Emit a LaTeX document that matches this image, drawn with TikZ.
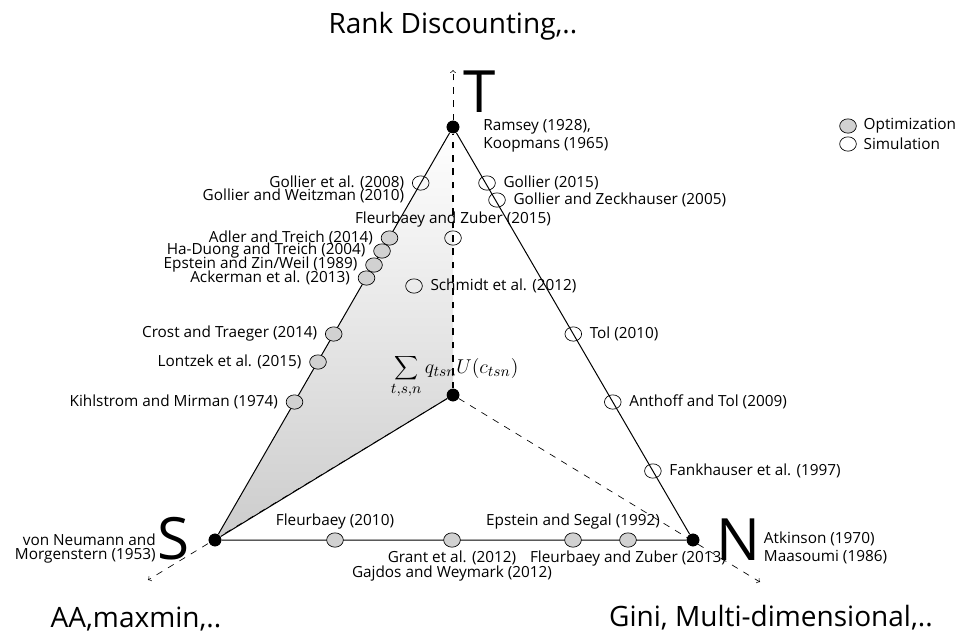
\documentclass[tikz,border=0pt]{standalone}
\usepackage[no-math]{fontspec}
\setmainfont{Open Sans}
\usepackage{tikz}
\usetikzlibrary{positioning,shapes.geometric}

\begin{document}
\begin{tikzpicture}[x=0.6pt, y=-0.6pt,
    lab/.style={font=\fontsize{9.2}{11}\selectfont, inner sep=0pt},
    ttl/.style={font=\fontsize{16.8}{20}\selectfont, inner sep=0pt},
    big/.style={font=\fontsize{35}{40}\selectfont, inner sep=0pt},
    opt/.style={ellipse, draw, fill=black!18, minimum width=10pt, minimum height=8.6pt, inner sep=0pt},
    sim/.style={ellipse, draw, minimum width=10pt, minimum height=8.6pt, inner sep=0pt},
    dot/.style={circle, fill=black, minimum size=7.6pt, inner sep=0pt},
    axis/.style={dash pattern=on 4pt off 4pt}]
    \useasboundingbox (0,0) rectangle (958,632);
    % corners and the middle point
    \node[dot] (T) at (453,127) {};
    \node[dot] (S) at (215,540) {};
    \node[dot] (N) at (693,540) {};
    \node[dot] (O) at (453,395) {};
    \coordinate (Tend) at (453,70);
    \coordinate (Send) at (148,580);
    \coordinate (Nend) at (760,582);
    % shaded part
    \shade[top color=white, bottom color=black!20]
(T.center) --
(S.center) --
(O.center) --
cycle;
    % axes
    \draw[axis, ->] (O) -- (Send);
    \draw[axis, ->] (O) -- (Nend);
    \draw[axis, ->] (T) -- (Tend);
    \draw[axis, thick] (O) -- (T);
    \draw[semithick] (S) -- (O);
    % triangle
    \draw[semithick]
(T) --
(S) --
(N) --
(T);
    \node[dot] at (T.center) {};
    \node[dot] at (S.center) {};
    \node[dot] at (N.center) {};
    \node[dot] at (O.center) {};
    \node[big] (Tl) at (480,92) {T};
    \node[big] (Sl) at (174,539) {S};
    \node[big] (Nl) at (738,540) {N};
    % titles
    \node[ttl, anchor=base] (top) at (453,33) {Rank Discounting,..};
    \node[ttl, anchor=base] (left) at (136,627) {AA,maxmin,..};
    \node[ttl, anchor=base] (right) at (771,626) {Gini, Multi-dimensional,..};
    % left edge
    \node[sim] (go08) at (420.7,183) {};
    \node[opt] (ad14) at (389.5,238) {};
    \node[opt] (hd04) at (382,251) {};
    \node[opt] (ez89) at (374,265) {};
    \node[opt] (ac13) at (366.5,278) {};
    \node[opt] (ct14) at (333.7,334) {};
    \node[opt] (lo15) at (318,362) {};
    \node[opt] (km74) at (294.5,402) {};
    \node[lab, align=right, left=4.5pt of go08, yshift=-3.8pt] {Gollier et al. (2008)\\[-2.8pt]Gollier and Weitzman (2010)};
    \node[lab, left=4.5pt of ad14] {Adler and Treich (2014)};
    \node[lab, left=4.5pt of hd04] {Ha-Duong and Treich (2004)};
    \node[lab, left=4.5pt of ez89] {Epstein and Zin/Weil (1989)};
    \node[lab, left=4.5pt of ac13] {Ackerman et al. (2013)};
    \node[lab, left=4.5pt of ct14] {Crost and Traeger (2014)};
    \node[lab, left=4.5pt of lo15] {Lontzek et al. (2015)};
    \node[lab, left=4.5pt of km74] {Kihlstrom and Mirman (1974)};
    % right edge
    \node[sim] (go15) at (487,183) {};
    \node[sim] (gz05) at (497,200) {};
    \node[sim] (to10) at (573.3,334) {};
    \node[sim] (at09) at (612.8,402) {};
    \node[sim] (fa97) at (652.9,471) {};
    \node[lab, align=left, right=14pt of T, yshift=-5.4pt] {Ramsey (1928),\\[-0.4pt]Koopmans (1965)};
    \node[lab, right=4.5pt of go15] {Gollier (2015)};
    \node[lab, right=4.5pt of gz05] {Gollier and Zeckhauser (2005)};
    \node[lab, right=4.5pt of to10] {Tol (2010)};
    \node[lab, right=4.5pt of at09] {Anthoff and Tol (2009)};
    \node[lab, right=4.5pt of fa97] {Fankhauser et al. (1997)};
    % inside
    \node[sim] (fz15) at (453,238) {};
    \node[sim] (sc12) at (414,286) {};
    \node[lab, above=2pt of fz15] {Fleurbaey and Zuber (2015)};
    \node[lab, right=4.5pt of sc12] {Schmidt et al. (2012)};
    \node[font=\fontsize{12.5}{14}\selectfont, inner sep=1pt, above=-7pt of O, xshift=1pt] (sum) {$\displaystyle\sum_{t,s,n} q_{tsn}U(c_{tsn})$};
    % bottom edge
    \node[opt] (fl10) at (335,540) {};
    \node[opt] (gr12) at (452,540) {};
    \node[opt] (es92) at (573,540) {};
    \node[opt] (fz13) at (628,540) {};
    \node[lab, above=2pt of fl10] {Fleurbaey (2010)};
    \node[lab, align=center, below=2pt of gr12] {Grant et al. (2012)\\[-2pt]Gajdos and Weymark (2012)};
    \node[lab, above=2pt of es92] {Epstein and Segal (1992)};
    \node[lab, below=2pt of fz13] {Fleurbaey and Zuber (2013)};
    \node[lab, align=right, left=1pt of Sl, yshift=-6pt] {von Neumann and\\[-2.6pt]Morgenstern (1953)};
    \node[lab, align=left, right=2pt of Nl, yshift=-4.8pt] {Atkinson (1970)\\[-0.4pt]Maasoumi (1986)};
    % legend
    \node[opt] (lopt) at (848,126) {};
    \node[sim] (lsim) at (848,144) {};
    \node[lab, right=4pt of lopt] {Optimization};
    \node[lab, right=4pt of lsim] {Simulation};
\end{tikzpicture}
\end{document}
